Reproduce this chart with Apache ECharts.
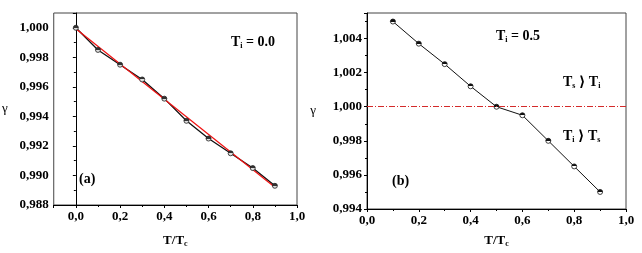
<!DOCTYPE html>
<html>
<head>
<meta charset="utf-8">
<script src="https://cdn.jsdelivr.net/npm/echarts@6/dist/echarts.min.js"></script>
<style>
  html, body { margin: 0; padding: 0; background: #fff; }
  #chart { width: 642px; height: 253px; }
</style>
</head>
<body>
<div id="chart"></div>
<script>
// panel (a): T_i = 0.0
const xA = [0.0, 0.1, 0.2, 0.3, 0.4, 0.5, 0.6, 0.7, 0.8, 0.9];
const gammaA = [1.0000, 0.9985, 0.9975, 0.9965, 0.9952, 0.9937, 0.9925, 0.9915, 0.9905, 0.9893];
// linear fit (red)
const fitX = [0.0, 0.9];
const fitY = [0.99993, 0.98920];

// panel (b): T_i = 0.5
const xB = [0.1, 0.2, 0.3, 0.4, 0.5, 0.6, 0.7, 0.8, 0.9];
const gammaB = [1.0050, 1.0037, 1.0025, 1.0012, 1.0000, 0.9995, 0.9980, 0.9965, 0.9950];
const refLine = 1.000;

const serif = '"Liberation Serif", "DejaVu Serif", serif';
const comma = (d) => (v) => v.toFixed(d).replace('.', ',');

const markerFill = (top, bottom) => new echarts.graphic.LinearGradient(0, 0, 0, 1, [
  { offset: 0, color: top }, { offset: 0.5, color: top },
  { offset: 0.5, color: bottom }, { offset: 1, color: bottom }
]);

const tickFont = { fontFamily: serif, fontWeight: 'bold', fontSize: 13, color: '#000', margin: 5 };

function xAxis(gridIndex, min, opts, labelOpts) {
  return Object.assign({
    type: 'value', gridIndex, min, max: 1.0,
    name: '{m|T/T}{s|c}', nameLocation: 'middle',
    nameTextStyle: {
      rich: {
        m: { fontFamily: serif, fontWeight: 'bold', fontSize: 13, color: '#000' },
        s: { fontFamily: serif, fontWeight: 'bold', fontSize: 8, color: '#000', verticalAlign: 'bottom', padding: [7, 0, 0, 0] }
      }
    },
    axisLine: { lineStyle: { color: '#000', width: 1 } },
    axisTick: { length: 3, lineStyle: { color: '#000' } },
    minorTick: { show: true, splitNumber: 2, length: 2, lineStyle: { color: '#000' } },
    splitLine: { show: false },
    axisLabel: Object.assign({ formatter: comma(1) }, tickFont, labelOpts)
  }, opts);
}

function yAxis(gridIndex, min, max, nameGap) {
  return {
    type: 'value', gridIndex, min, max, interval: 0.002,
    name: 'γ', nameLocation: 'middle', nameGap, nameRotate: 0,
    nameTextStyle: { fontFamily: serif, fontSize: 13, color: '#000' },
    axisLine: { show: true, lineStyle: { color: '#000', width: 1 } },
    axisTick: { show: true, length: 3, lineStyle: { color: '#000' } },
    minorTick: { show: true, splitNumber: 2, length: 2, lineStyle: { color: '#000' } },
    splitLine: { show: false },
    axisLabel: Object.assign({ showMaxLabel: false, formatter: comma(3) }, tickFont)
  };
}

function label(left, top, text) {
  return { type: 'text', left, top, style: { text, rich: richT, fill: '#000' } };
}
const richT = {
  m: { fontFamily: serif, fontWeight: 'bold', fontSize: 14, color: '#000' },
  s: { fontFamily: serif, fontWeight: 'bold', fontSize: 8, color: '#000', padding: [8, 0, 0, 0] }
};

const chart = echarts.init(document.getElementById('chart'), null, { renderer: 'canvas' });
chart.setOption({
  animation: false,
  backgroundColor: '#fff',
  grid: [
    { left: 52, top: 13, width: 245, height: 197, show: true, borderColor: '#444', borderWidth: 1 },
    { left: 367, top: 13, width: 259, height: 200, show: true, borderColor: '#444', borderWidth: 1 }
  ],
  xAxis: [
    xAxis(0, -0.1, { splitNumber: 6, nameGap: 28 }, { showMinLabel: false }),
    xAxis(1, 0.0, { interval: 0.2, nameGap: 24 })
  ],
  yAxis: [
    yAxis(0, 0.988, 1.001, 46),
    yAxis(1, 0.994, 1.0055, 51)
  ],
  series: [
    {
      type: 'line', xAxisIndex: 0, yAxisIndex: 0,
      data: xA.map((x, i) => [x, gammaA[i]]),
      symbol: 'circle', symbolSize: 5,
      lineStyle: { color: '#111', width: 1.3 },
      itemStyle: { color: markerFill('#333', '#ddd'), borderColor: '#222', borderWidth: 0.8 }
    },
    {
      type: 'line', xAxisIndex: 0, yAxisIndex: 0,
      data: fitX.map((x, i) => [x, fitY[i]]),
      symbol: 'none', lineStyle: { color: '#f01010', width: 1.2 }, z: 3
    },
    {
      type: 'line', xAxisIndex: 1, yAxisIndex: 1,
      data: xB.map((x, i) => [x, gammaB[i]]),
      symbol: 'circle', symbolSize: 5,
      lineStyle: { color: '#111', width: 1 },
      itemStyle: { color: markerFill('#111', '#fff'), borderColor: '#111', borderWidth: 0.8 },
      markLine: {
        silent: true, symbol: 'none', label: { show: false },
        lineStyle: { color: '#d42a2a', width: 1, type: [6, 2, 1, 2] },
        data: [{ yAxis: refLine }]
      }
    }
  ],
  graphic: [
    label(231, 35, '{m|T}{s|i}{m| = 0.0}'),
    label(79, 172, '{m|(a)}'),
    label(496, 29, '{m|T}{s|i}{m| = 0.5}'),
    label(392, 174, '{m|(b)}'),
    label(563, 75, '{m|T}{s|s}{m| ⟩ T}{s|i}'),
    label(563, 129, '{m|T}{s|i}{m| ⟩ T}{s|s}')
  ]
});
</script>
</body>
</html>
